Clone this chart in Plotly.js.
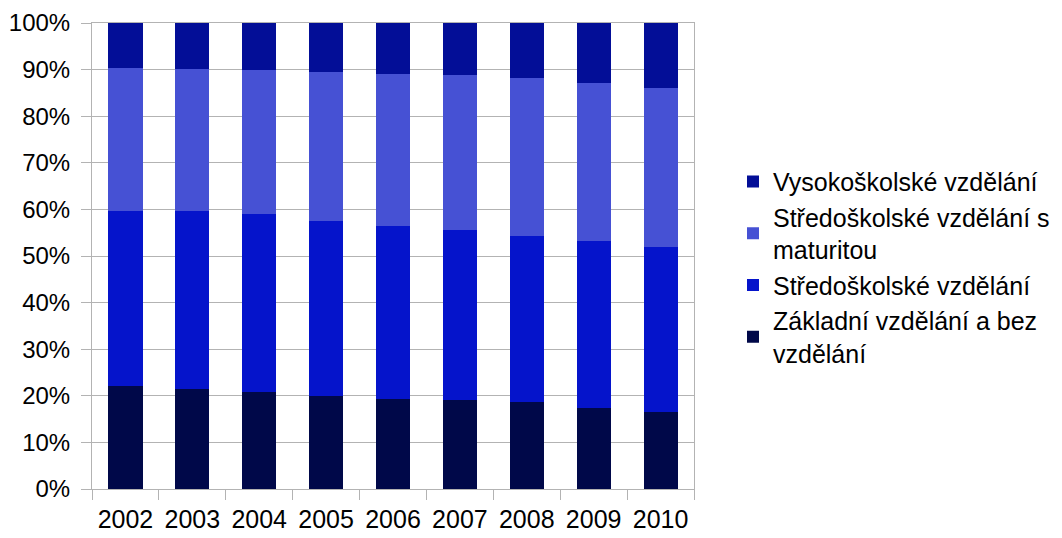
<!DOCTYPE html>
<html>
<head>
<meta charset="utf-8">
<script src="https://cdn.plot.ly/plotly-3.0.1.min.js"></script>
<style>html,body{margin:0;padding:0;background:#fff;}#chart{width:1062px;height:538px;}</style>
</head>
<body>
<div id="chart"></div>
<script>
const years = ['2002','2003','2004','2005','2006','2007','2008','2009','2010'];
const zakladni = [22.1, 21.5, 20.8, 20.0, 19.3, 19.1, 18.7, 17.4, 16.5];
const stredoskolske = [37.6, 38.2, 38.2, 37.5, 37.1, 36.5, 35.6, 35.8, 35.4];
const maturita = [30.7, 30.4, 30.9, 32.0, 32.7, 33.2, 33.9, 33.9, 34.1];
const vysokoskolske = [9.6, 9.9, 10.1, 10.5, 10.9, 11.2, 11.8, 12.9, 14.0];

const names = ['Základní vzdělání a bez<br>vzdělání', 'Středoškolské vzdělání', 'Středoškolské vzdělání s<br>maturitou', 'Vysokoškolské vzdělání'];
const series = [zakladni, stredoskolske, maturita, vysokoskolske];
const colors = ['#000849', '#0514cb', '#4651d4', '#030e97'];

const data = series.map((s, i) => ({
  type: 'bar', x: years, y: s, name: names[i],
  marker: {color: colors[i], line: {width: 0}},
  hoverinfo: 'y+name'
}));

const plotW = 1062 - 92;
const layout = {
  width: 1062, height: 538,
  margin: {l: 92, r: 0, t: 23, b: 49},
  barmode: 'stack',
  bargap: 0.49,
  paper_bgcolor: '#fff', plot_bgcolor: '#fff',
  font: {family: '"Liberation Sans", Arial, sans-serif', size: 24, color: '#000'},
  xaxis: {
    type: 'category',
    domain: [0, 602 / plotW],
    showgrid: false,
    showline: true, linecolor: '#b3b3b3', linewidth: 1, mirror: true,
    ticks: 'outside', tickson: 'boundaries', ticklen: 10, tickcolor: '#b3b3b3',
    tickfont: {size: 25}, ticklabelstandoff: 8
  },
  yaxis: {
    range: [0, 100],
    dtick: 10, ticksuffix: '%',
    showgrid: true, gridcolor: '#b3b3b3', gridwidth: 1,
    showline: true, linecolor: '#b3b3b3', linewidth: 1, mirror: true,
    ticks: 'outside', ticklen: 10, tickcolor: '#b3b3b3',
    tickfont: {size: 24}, zeroline: false, ticklabelstandoff: 6
  },
  legend: {
    x: (733 - 92) / plotW, xanchor: 'left', y: 0.476, yanchor: 'middle',
    traceorder: 'reversed',
    font: {size: 25},
    tracegroupgap: 0
  },
  showlegend: true
};

Plotly.newPlot('chart', data, layout, {displayModeBar: false, staticPlot: true});
</script>
</body>
</html>
